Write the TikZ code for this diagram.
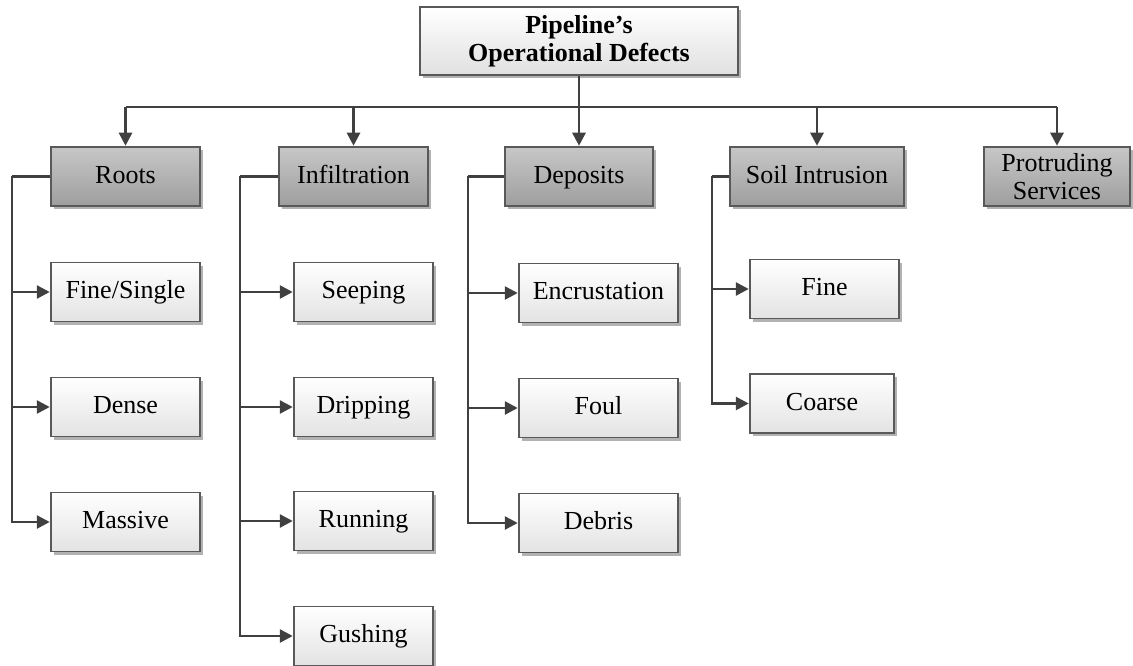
\documentclass[tikz,border=0pt]{standalone}
\usepackage{fontspec}
\setmainfont{Liberation Serif}
\usetikzlibrary{arrows.meta,shadows,calc}

\definecolor{edgegray}{HTML}{595959}
\definecolor{linegray}{HTML}{404040}

\tikzset{
  box/.style={draw=edgegray, line width=1.3pt, minimum height=59pt,
    inner sep=0pt, align=center,
    font=\fontsize{26}{28}\selectfont,
    drop shadow={shadow xshift=3pt, shadow yshift=-3pt, opacity=0.3, fill=black}},
  oneline/.style={text height=19pt, text depth=6pt},
  rootbox/.style={box, top color=white, bottom color=black!12},
  catbox/.style={box, top color=black!22, bottom color=black!38},
  leafbox/.style={box, oneline, top color=white, bottom color=black!11},
  link/.style={draw=linegray, line width=2.7pt},
  arrowlink/.style={link, -{Triangle[length=13pt,width=13pt]}, shorten >=0.6pt},
}

\begin{document}
\begin{tikzpicture}[x=1pt, y=-1pt]
\useasboundingbox (0,0) rectangle (1133,666);

% root
\node[rootbox, minimum width=318pt, minimum height=68pt,
  font=\bfseries\fontsize{26}{28}\selectfont] (top) at (579,41)
  {Pipeline’s\\Operational Defects};

% categories
\node[catbox, oneline, minimum width=149pt] (roots) at (125.5,176.5) {Roots};
\node[catbox, oneline, minimum width=149pt] (infil) at (353.5,176.5) {Infiltration};
\node[catbox, oneline, minimum width=148pt] (depo)  at (579,176.5)   {Deposits};
\node[catbox, oneline, minimum width=174pt] (soil)  at (817,176.5)   {Soil Intrusion};
\node[catbox, minimum width=146pt] (prot)  at (1057,176.5)  {Protruding\\Services};

% roots
\node[leafbox, minimum width=149pt] (rfine)  at (125.5,292) {Fine/Single};
\node[leafbox, minimum width=149pt] (rdense) at (125.5,407) {Dense};
\node[leafbox, minimum width=149pt] (rmass)  at (125.5,522) {Massive};

% infiltration
\node[leafbox, minimum width=139pt] (iseep)  at (363.5,292) {Seeping};
\node[leafbox, minimum width=139pt] (idrip)  at (363.5,407) {Dripping};
\node[leafbox, minimum width=139pt] (irun)   at (363.5,521) {Running};
\node[leafbox, minimum width=139pt] (igush)  at (363.5,636) {Gushing};

% deposits
\node[leafbox, minimum width=159pt] (dencr)  at (598.5,293) {Encrustation};
\node[leafbox, minimum width=159pt] (dfoul)  at (598.5,408) {Foul};
\node[leafbox, minimum width=159pt] (ddeb)   at (598.5,523) {Debris};

% soil intrusion
\node[leafbox, minimum width=149pt] (sfine)  at (824.5,289) {Fine};
\node[leafbox, minimum width=144pt] (scoar)  at (822,403.5) {Coarse};

% bus from the root to the categories
\coordinate (bus) at (579,107);
\draw[link] (top.south) -- (bus);
\draw[link] (roots.north |- bus) -- (prot.north |- bus);
\foreach \c in {roots,infil,depo,soil,prot}
  \draw[arrowlink] (\c.north |- bus) -- (\c.north);

% trunks on the left of each category
\coordinate (rt) at (12,176.5);
\coordinate (it) at (240,176.5);
\coordinate (dt) at (468,176.5);
\coordinate (st) at (712,176.5);

\draw[link] (roots.west) -- (rt);
\draw[arrowlink] (rt) |- (rmass.west);
\draw[arrowlink] (rt |- rfine.west) -- (rfine.west);
\draw[arrowlink] (rt |- rdense.west) -- (rdense.west);

\draw[link] (infil.west) -- (it);
\draw[arrowlink] (it) |- (igush.west);
\foreach \c in {iseep,idrip,irun}
  \draw[arrowlink] (it |- \c.west) -- (\c.west);

\draw[link] (depo.west) -- (dt);
\draw[arrowlink] (dt) |- (ddeb.west);
\foreach \c in {dencr,dfoul}
  \draw[arrowlink] (dt |- \c.west) -- (\c.west);

\draw[link] (soil.west) -- (st);
\draw[arrowlink] (st) |- (scoar.west);
\draw[arrowlink] (st |- sfine.west) -- (sfine.west);
\end{tikzpicture}
\end{document}
